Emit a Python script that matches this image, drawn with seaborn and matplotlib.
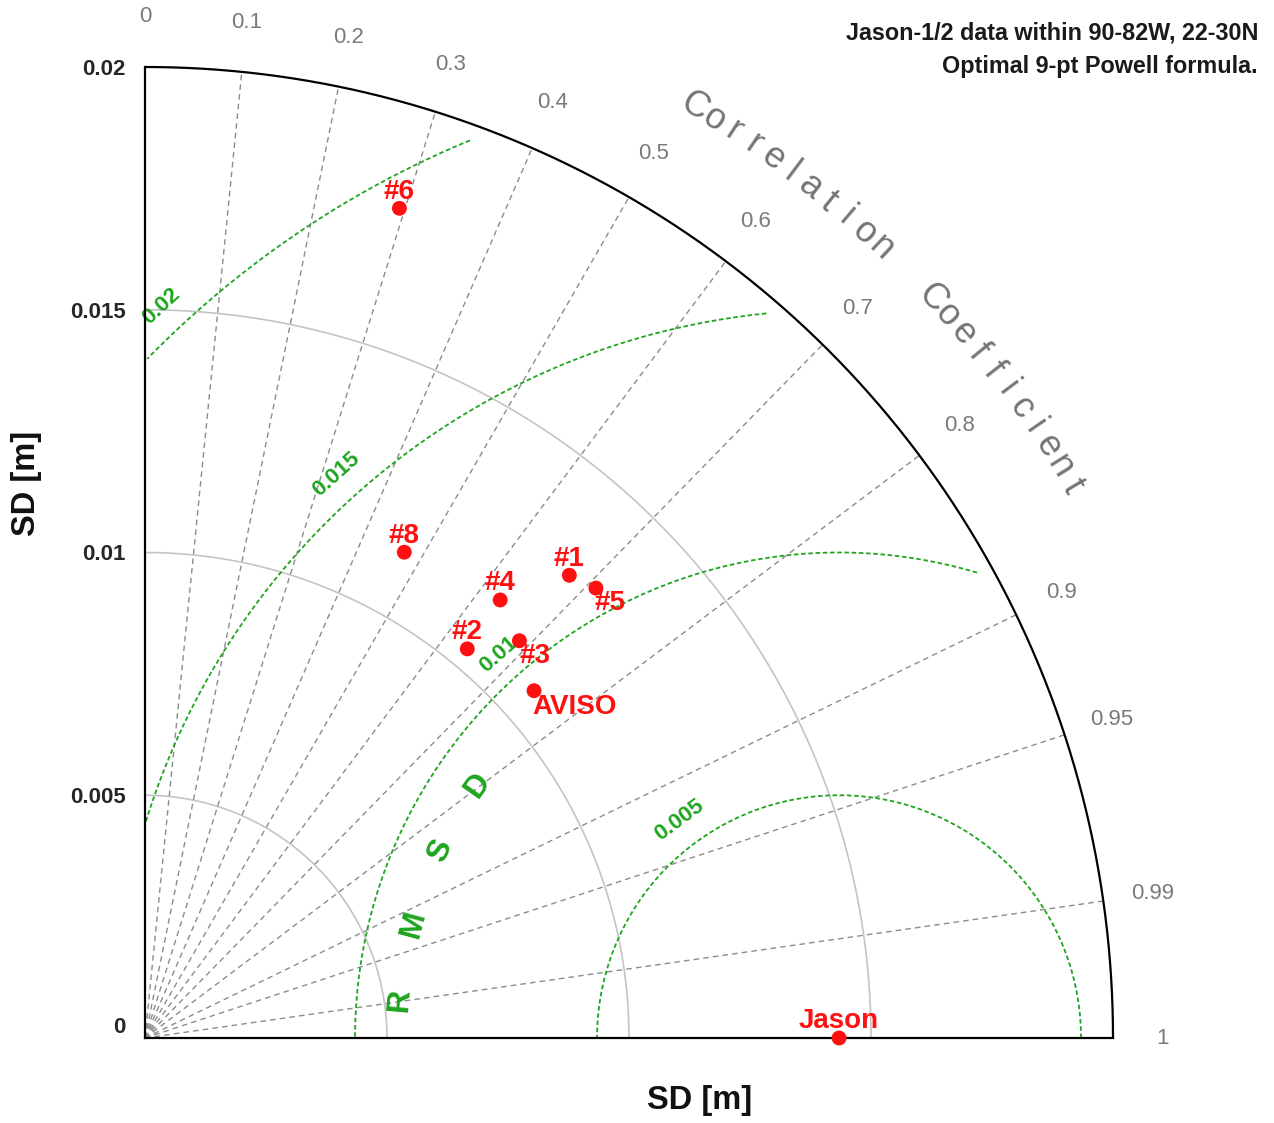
import numpy as np
import pandas as pd
import matplotlib
matplotlib.use("Agg")
import matplotlib.pyplot as plt
import seaborn as sns

# ---------------- data ----------------
models = ["#1", "#2", "#3", "#4", "#5", "#6", "#8", "AVISO", "Jason"]
sd_values = [0.01295, 0.01042, 0.01126, 0.01163, 0.01314, 0.01788, 0.01135, 0.01076, 0.01434]
corr_values = [0.677, 0.639, 0.687, 0.631, 0.709, 0.294, 0.472, 0.747, 1.0]
ref_sd = 0.01434  # Jason reference

corr_ticks = [0, 0.1, 0.2, 0.3, 0.4, 0.5, 0.6, 0.7, 0.8, 0.9, 0.95, 0.99, 1]
corr_tick_labels = ["0", "0.1", "0.2", "0.3", "0.4", "0.5", "0.6", "0.7", "0.8",
                    "0.9", "0.95", "0.99", "1"]
sd_ticks = [0, 0.005, 0.01, 0.015, 0.02]
sd_tick_labels = ["0", "0.005", "0.01", "0.015", "0.02"]
rmsd_levels = [0.005, 0.01, 0.015, 0.02]
rmsd_labels = ["0.005", "0.01", "0.015", "0.02"]
rmsd_label_angles = [126.3, 131.7, 131.8, 132.9]  # degrees around the reference

title_lines = ["Jason-1/2 data within 90-82W, 22-30N", "Optimal 9-pt Powell formula."]

# ---------------- style ----------------
sns.set_theme(style="white")
plt.rcParams["font.family"] = ["Liberation Sans", "DejaVu Sans"]

fig = plt.figure(figsize=(12.74, 11.23), dpi=100)
ax = fig.add_axes([145 / 1274, 1 - 1038 / 1123, 968 / 1274, 971 / 1123])
rmax = 0.02
ax.set_xlim(0, rmax)
ax.set_ylim(0, rmax)

for s in ["top", "right"]:
    ax.spines[s].set_visible(False)
for s in ["left", "bottom"]:
    ax.spines[s].set_color("black")
    ax.spines[s].set_linewidth(1.6)

# SD arcs
th = np.linspace(0, np.pi / 2, 400)
for r in sd_ticks[1:-1]:
    ax.plot(r * np.cos(th), r * np.sin(th), color="#c4c4c4", lw=1.2, zorder=1)
ax.plot(rmax * np.cos(th), rmax * np.sin(th), color="black", lw=1.6, zorder=3, clip_on=False)

# correlation rays
for c in corr_ticks[1:-1]:
    a = np.arccos(c)
    ax.plot([0, rmax * np.cos(a)], [0, rmax * np.sin(a)], color="#8c8c8c", lw=1.0,
            dashes=(4, 3), zorder=1)

# correlation tick labels
for c, lab in zip(corr_ticks, corr_tick_labels):
    a = np.arccos(c)
    rr = 0.02103
    ax.text(rr * np.cos(a), rr * np.sin(a), lab, ha="center", va="center",
            fontsize=16, color="#7a7a7a", clip_on=False)

# "Correlation Coefficient" along the arc
word = "Correlation Coefficient"
a0, step, rr = 59.4, 1.25, 0.02228
k = 0
for ch in word:
    if ch == " ":
        k += 2
        continue
    ang = a0 - step * k
    ax.text(rr * np.cos(np.radians(ang)), rr * np.sin(np.radians(ang)), ch,
            rotation=ang - 90, rotation_mode="anchor", ha="center", va="center",
            fontsize=26, color="#747474", clip_on=False)
    k += 1

# RMSD contours
clip_r = 0.0197
phi = np.linspace(0, np.pi, 800)
for lev, lab, la in zip(rmsd_levels, rmsd_labels, rmsd_label_angles):
    x = ref_sd + lev * np.cos(phi)
    y = lev * np.sin(phi)
    m = (np.hypot(x, y) <= clip_r) & (x >= 0)
    xx = np.where(m, x, np.nan)
    yy = np.where(m, y, np.nan)
    ax.plot(xx, yy, color="#1ea51e", lw=1.3, dashes=(2.5, 1.5), zorder=2)
    rl = lev + 0.00058
    ax.text(ref_sd + rl * np.cos(np.radians(la)), rl * np.sin(np.radians(la)), lab,
            rotation=la - 90, rotation_mode="anchor", ha="center", va="center",
            fontsize=16, fontweight="bold", color="#1ea51e", zorder=2)

# RMSD letters
for i, ch in enumerate("RMSD"):
    ang = 175.0 - 10.0 * i
    rr = 0.0091
    ax.text(ref_sd + rr * np.cos(np.radians(ang)), rr * np.sin(np.radians(ang)), ch,
            rotation=ang - 90, rotation_mode="anchor", ha="center", va="center",
            fontsize=23, fontweight="bold", color="#1ea51e")

# points
theta = np.arccos(np.array(corr_values))
df = pd.DataFrame({
    "model": models,
    "x": np.array(sd_values) * np.cos(theta),
    "y": np.array(sd_values) * np.sin(theta),
})
sns.scatterplot(data=df, x="x", y="y", ax=ax, color="#ff1010", s=115,
                edgecolor="none", zorder=5, clip_on=False, legend=False)

offsets = {"#5": (10, -11, "center"), "#3": (11.5, -11, "center"),
           "AVISO": (-1, -11.5, "left")}
for _, row in df.iterrows():
    dx, dy, ha = offsets.get(row["model"], (0, 12, "center"))
    ax.annotate(row["model"], (row["x"], row["y"]), xytext=(dx, dy),
                textcoords="offset points", ha=ha, va="center", fontsize=20,
                fontweight="bold", color="#ff1010", zorder=6)

# axes ticks / labels
ax.set_xticks([])
ax.set_yticks(sd_ticks)
ax.set_yticklabels(sd_tick_labels, fontsize=16, fontweight="bold")
ax.tick_params(axis="y", length=0, pad=14)
ax.get_yticklabels()[0].set_va("bottom")
ax.set_xlabel("")
ax.set_ylabel("")
ax.text(0.573, -0.064, "SD [m]", transform=ax.transAxes, ha="center", va="center",
        fontsize=23.5, fontweight="bold", color="#111111")
ax.text(-0.122, 0.5716, "SD [m]", transform=ax.transAxes, ha="center", va="center",
        rotation=90, fontsize=23.5, fontweight="bold", color="#111111")

fig.text(1258 / 1274, 1 - 33 / 1123, title_lines[0], ha="right", va="center",
         fontsize=16.8, fontweight="bold", color="#1a1a1a")
fig.text(1258 / 1274, 1 - 67 / 1123, title_lines[1], ha="right", va="center",
         fontsize=16.8, fontweight="bold", color="#1a1a1a")

fig.savefig("out.png", dpi=100, facecolor="white")
